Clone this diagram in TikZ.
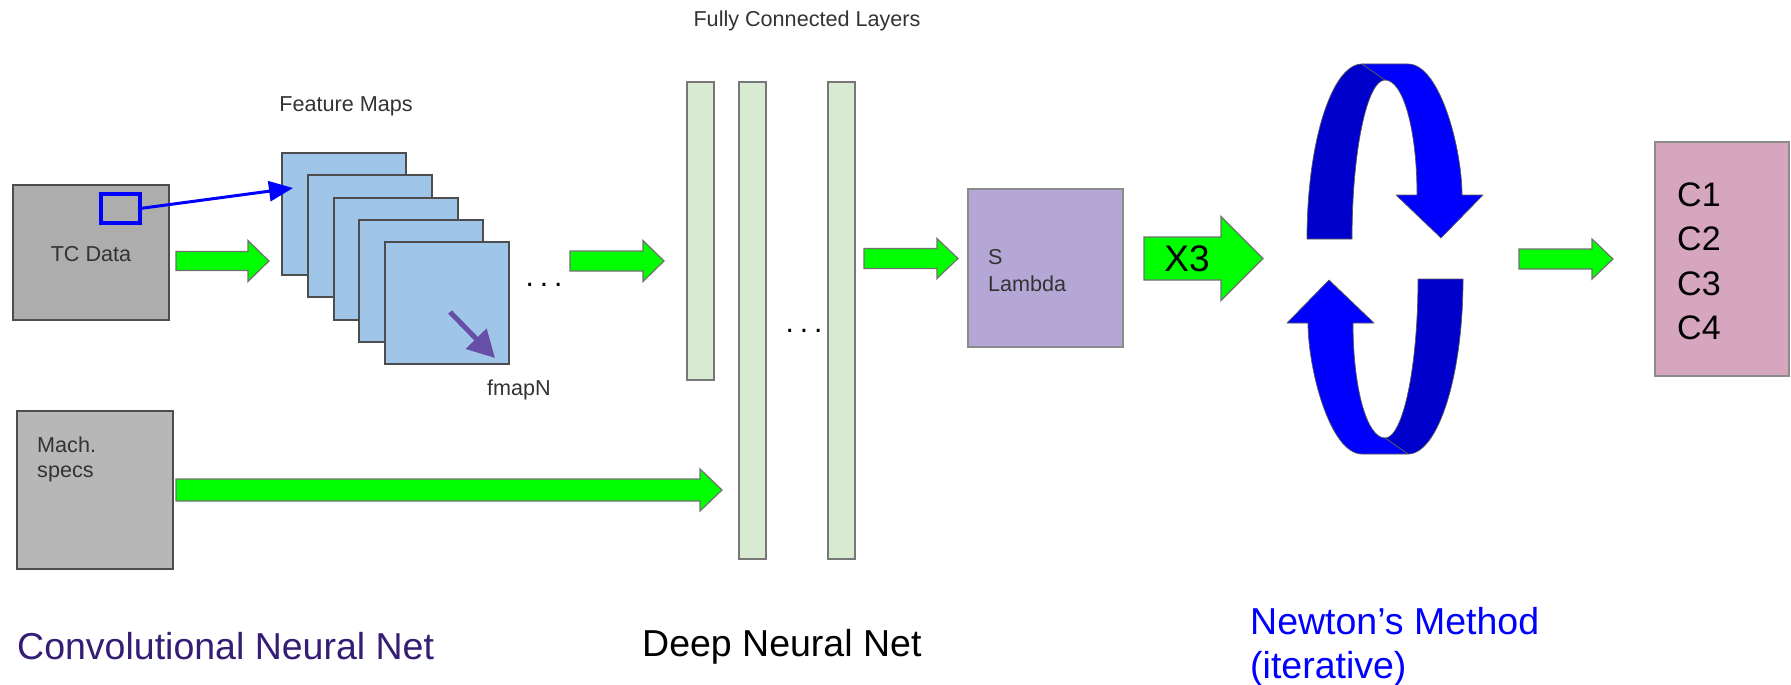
\documentclass[tikz,border=0pt]{standalone}
\usepackage{fontspec}
\setmainfont{Liberation Sans}
\usetikzlibrary{arrows.meta,calc}
\definecolor{tcgray}{HTML}{ADADAD}
\definecolor{machgray}{HTML}{B7B7B7}
\definecolor{fmblue}{HTML}{9FC5E8}
\definecolor{fcgreen}{HTML}{D9EAD3}
\definecolor{slav}{HTML}{B4A7D6}
\definecolor{cpink}{HTML}{D5A6BD}
\definecolor{agreen}{HTML}{00FF00}
\definecolor{loopblue}{HTML}{0000FF}
\definecolor{loopdark}{HTML}{0000CC}
\definecolor{fpurple}{HTML}{674EA7}
\definecolor{cnnpurple}{HTML}{351C75}
\definecolor{txtgray}{HTML}{333333}
\definecolor{edgedark}{HTML}{4D4D4D}
\definecolor{edgemid}{HTML}{777777}
\definecolor{edgelight}{HTML}{8C8C8C}
% block arrow: from, to, shaft half width, head half width, head length
\newcommand\blockarr[5]{%
  \draw[garrow] ($(#1)+(0,-#3)$) -- ($(#2)+(-#5,-#3)$) -- ($(#2)+(-#5,-#4)$) -- (#2)
    -- ($(#2)+(-#5,#4)$) -- ($(#2)+(-#5,#3)$) -- ($(#1)+(0,#3)$) -- cycle;}
\begin{document}
\begin{tikzpicture}[x=1pt,y=-1pt,
  boxbase/.style={anchor=north west, inner sep=0pt, outer sep=0pt},
  graybox/.style={boxbase, draw=edgedark, line width=2pt},
  mapbox/.style={boxbase, draw=edgedark, line width=2pt, fill=fmblue, minimum width=124pt, minimum height=122pt},
  fcbar/.style={boxbase, draw=edgemid, line width=2pt, fill=fcgreen, minimum width=27pt},
  softbox/.style={boxbase, draw=edgelight, line width=1.6pt},
  garrow/.style={fill=agreen, draw=edgedark!80, line width=1.2pt, line join=miter},
  lbl/.style={inner sep=0pt, text=txtgray, font=\fontsize{21.6}{26}\selectfont},
  big/.style={inner sep=0pt, font=\fontsize{37.5}{45}\selectfont},
  dots/.style={inner sep=0pt, text=black, font=\fontsize{30}{30}\selectfont},
  loopedge/.style={draw=gray!70!black, line width=0.7pt, line join=round}]
\useasboundingbox (0,0) rectangle (1791,685);
\fill[white] (0,0) rectangle (1791,685);

% ---------- CNN part ----------
\node[graybox, fill=tcgray, minimum width=156pt, minimum height=135pt] (tc) at (13,185) {};
\node[lbl, anchor=base] (tctxt) at (91,261) {TC Data};
\node[boxbase, draw=loopblue, line width=4pt, minimum width=39pt, minimum height=29pt] (patch) at (101,194) {};

\node[graybox, fill=machgray, minimum width=156pt, minimum height=158pt] (mach) at (17,411) {};
\node[lbl, anchor=base west] (machtxt1) at (37,452) {Mach.};
\node[lbl, anchor=base west] (machtxt2) at (37,477) {specs};

\foreach \i in {0,...,4}
  \node[mapbox] (fm\i) at ({282+25.75*\i},{153+22.25*\i}) {};
\node[lbl, anchor=base] (fmtitle) at (346,111) {Feature Maps};
\node[lbl, anchor=base] (fmapn) at (519,395) {fmapN};
\node[dots, anchor=base] (dots1) at (544,286) {.\hspace{6pt}.\hspace{6pt}.};

\coordinate (fmtip) at (293,188);
\draw[line width=3pt, loopblue, -{Triangle[length=24pt,width=20pt]}] (patch.east) -- (fmtip);
\coordinate (pstart) at (450,312);
\coordinate (ptip) at (495,358);
\draw[line width=5pt, fpurple, -{Triangle[length=27pt,width=28pt]}] (pstart) -- (ptip);

% ---------- Fully connected layers ----------
\node[fcbar, minimum height=298pt] (fc1) at (687,82) {};
\node[fcbar, minimum height=477pt] (fc2) at (739,82) {};
\node[fcbar, minimum height=477pt] (fc3) at (828,82) {};
\node[lbl, anchor=base] (fctitle) at (807,27) {Fully Connected Layers};
\node[dots, anchor=base] (dots2) at (804,332) {.\hspace{6pt}.\hspace{6pt}.};

% ---------- S / Lambda ----------
\node[softbox, fill=slav, minimum width=155pt, minimum height=158pt] (sl) at (968,189) {};
\node[lbl, anchor=base west] (stxt) at (988,264) {S};
\node[lbl, anchor=base west] (ltxt) at (988,291) {Lambda};

% ---------- C box ----------
\node[softbox, fill=cpink, minimum width=134pt, minimum height=234pt] (cb) at (1655,142) {};
\foreach \k/\yy in {1/206,2/250,3/295,4/339}
  \node[inner sep=0pt, anchor=base west, font=\fontsize{34}{40}\selectfont] (c\k) at (1677,\yy) {C\k};

% ---------- green block arrows ----------
\coordinate (g1a) at (176,261);  \coordinate (g1b) at (269,261);
\coordinate (g2a) at (570,261);  \coordinate (g2b) at (664,261);
\coordinate (g3a) at (864,258.5); \coordinate (g3b) at (958,258.5);
\coordinate (g4a) at (176,490);  \coordinate (g4b) at (722,490);
\coordinate (g5a) at (1144,258.5); \coordinate (g5b) at (1263,258.5);
\coordinate (g6a) at (1519,259); \coordinate (g6b) at (1613,259);
\blockarr{g1a}{g1b}{9.5}{20.5}{21}
\blockarr{g2a}{g2b}{10}{20.5}{21}
\blockarr{g3a}{g3b}{10}{20}{21}
\blockarr{g4a}{g4b}{11}{21}{22}
\blockarr{g5a}{g5b}{21.5}{42}{42}
\blockarr{g6a}{g6b}{10}{20}{21}
\node[inner sep=0pt, anchor=base, font=\fontsize{37}{40}\selectfont] (x3) at (1187,271) {X3};

% ---------- Newton loop ----------
\coordinate (loopc) at (1385,259);
\begin{scope}[shift={(loopc)}]
  \foreach \r in {0,180} {
    \begin{scope}[rotate=\r]
      \path[fill=loopdark, loopedge] (-78,-20) .. controls (-78,-117) and (-53,-195) .. (-23,-195)
        -- (0,-179) .. controls (-18,-179) and (-33,-108) .. (-33,-20) -- cycle;
      \path[fill=loopblue, loopedge] (-23,-195) -- (23,-195) .. controls (55,-195) and (77,-110) .. (77,-64)
        -- (98,-64) -- (56,-21) -- (11,-64) -- (32,-64)
        .. controls (32,-130) and (18,-179) .. (0,-179) -- cycle;
    \end{scope}
  }
\end{scope}

% ---------- section titles ----------
\node[big, anchor=base west, text=cnnpurple] (cnnt) at (17,659) {Convolutional Neural Net};
\node[big, anchor=base west, text=black] (dnnt) at (642,656) {Deep Neural Net};
\node[big, anchor=base west, text=loopblue] (newt1) at (1250,634) {Newton’s Method};
\node[big, anchor=base west, text=loopblue] (newt2) at (1250,678) {(iterative)};
\end{tikzpicture}
\end{document}
